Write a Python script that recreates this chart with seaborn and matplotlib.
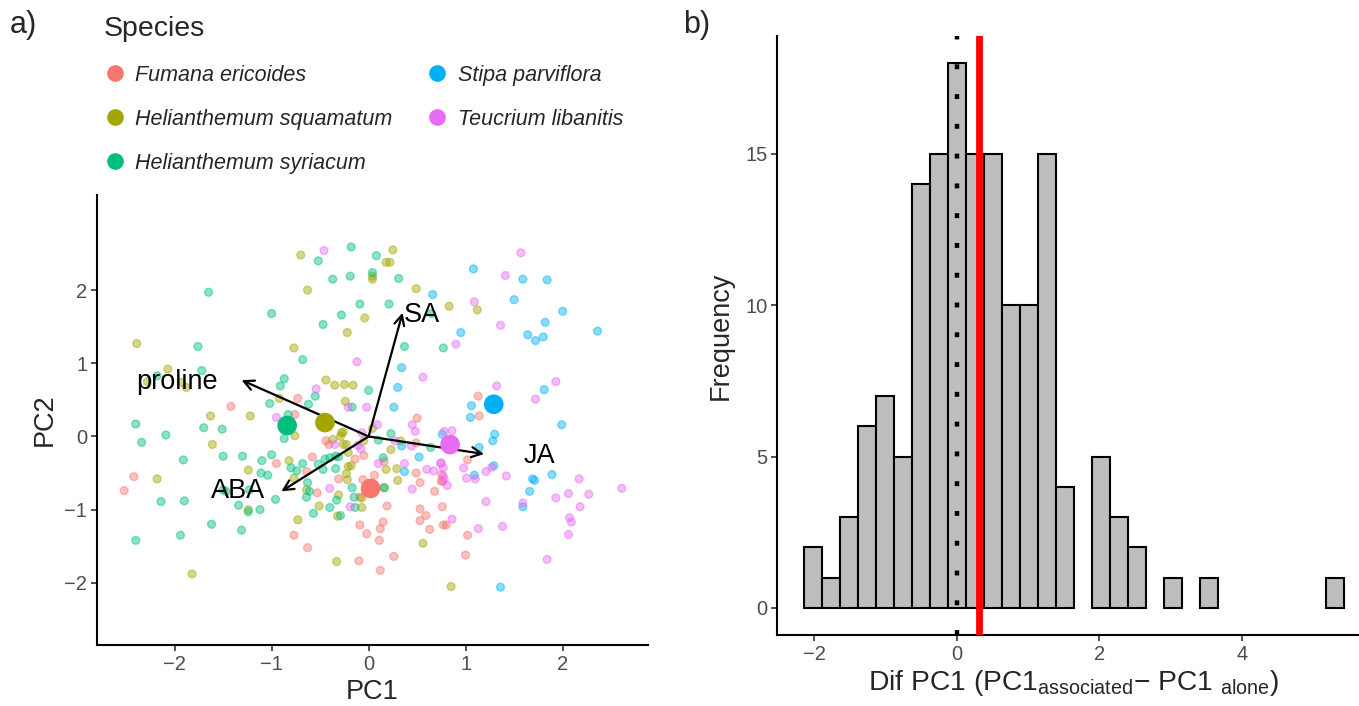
import numpy as np
import pandas as pd
import matplotlib
matplotlib.use("Agg")
import matplotlib.pyplot as plt
from matplotlib.lines import Line2D
import seaborn as sns

# ---------------- data ----------------
species = ["Fumana ericoides", "Helianthemum squamatum", "Helianthemum syriacum",
           "Stipa parviflora", "Teucrium libanitis"]
colors = ["#F8766D", "#A3A500", "#00BF7D", "#00B0F6", "#E76BF3"]

fe_x = [-1.42, -0.95, -2.42, -2.52, -0.73, -0.76, 0.50, 1.13, 1.14, -0.44, -0.41, 0.49, -0.05, -0.14,
        -0.58, 0.16, 0.49, -0.64, -0.31, -0.06, 0.06, 0.53, 0.68, 0.75, -0.53, -0.09, 0.19, 0.53, 0.76,
        0.59, 0.53, 0.15, -0.09, 0.12, 0.63, 0.77, -0.02, -0.77, 0.11, -0.63, 0.26, -0.10, 0.12, 1.02,
        0.75, 0.76, 0.80, 1.02, 1.00]
fe_y = [0.41, -0.37, -0.55, -0.74, 0.52, 0.30, 0.25, 0.55, 0.28, -0.06, -0.11, -0.09, -0.26, -0.31,
        -0.28, -0.34, -0.50, -0.48, -0.58, -0.59, -0.53, -0.63, -0.75, -0.61, -0.77, -0.83, -0.95, -0.99, -0.96,
        -1.08, -1.15, -1.17, -1.21, -1.26, -1.27, -1.21, -1.33, -1.35, -1.42, -1.52, -1.64, -1.70, -1.83, -0.32,
        -0.52, -0.61, -1.21, -1.35, -1.62]

hsq_x = [-2.39, -2.07, -1.93, -1.88, -2.28, -1.63, -1.22, -0.70, 0.25, 0.18, 0.22, 0.04, 0.04, -0.63,
         0.49, -0.04, -0.22, -0.77, -0.44, -0.35, -0.25, -0.16, -0.92, -0.24, 0.83, 1.12, -1.61, -1.24,
         -2.18, -1.24, -1.82, -0.76, 0.04, -0.28, -0.26, -0.29, -0.37, -0.26, -0.23, -0.05, 0.33, 0.23,
         -0.21, -0.82, 0.18, 0.29, -0.21, -0.18, -0.23, -0.22, -0.77, 0.30, 0.16, -0.64, -0.31, -0.07,
         -0.51, -0.07, -0.32, -0.73, 0.56, -0.33, 0.85]
hsq_y = [1.27, 0.92, 0.74, 0.67, 0.75, 0.28, 0.28, 2.48, 2.55, 2.38, 2.38, 2.19, 2.15, 2.00,
         2.02, 1.62, 1.42, 1.21, 0.77, 0.70, 0.71, 0.70, 0.52, 0.48, 1.78, 1.73, -0.11, -0.46,
         -0.58, -1.00, -1.88, 0.01, 0.11, 0.05, 0.06, 0.00, -0.04, -0.11, -0.11, -0.06, -0.06, -0.18,
         -0.22, -0.33, -0.45, -0.44, -0.41, -0.40, -0.51, -0.59, -0.57, -0.60, -0.70, -0.73, -0.80, -0.84,
         -0.95, -0.97, -1.09, -1.14, -1.46, -1.71, -2.05]

hsy_x = [-1.65, -1.00, -1.76, -1.72, -2.18, -1.02, -0.18, -0.52, 0.08, 0.04, -0.37, -0.19, 0.31, -0.09,
         0.21, -0.28, -0.47, 0.65, 0.77, 0.37, -0.68, -0.87, -0.91, 0.00, -0.55, -0.62, -0.17, -0.83,
         -2.40, -2.09, -2.34, -1.70, -1.51, -1.91, -1.50, -1.30, -1.10, -1.00, -1.11, -1.04, -2.14, -1.90,
         -1.50, -1.47, -1.23, -1.34, -1.24, -1.12, -0.96, -1.62, -1.31, -1.94, -2.40, -0.87, 0.23, 0.10,
         0.64, -0.45, -0.40, -0.34, -0.31, 0.15, -0.68, -0.80, -0.74, -0.52, -0.47, -0.34, -0.63, 0.16,
         -0.17, -0.61, -0.64, -0.33, -0.15, -0.40, -0.14, -0.57, -0.29]
hsy_y = [1.97, 1.68, 1.23, 0.90, 0.83, 0.45, 2.59, 2.40, 2.47, 2.24, 2.15, 2.19, 2.16, 1.81,
         1.81, 1.66, 1.53, 1.68, 1.21, 1.23, 1.05, 0.79, 0.69, 0.63, 0.55, 0.44, 0.40, 0.30,
         0.17, 0.02, -0.08, 0.12, 0.10, -0.32, -0.27, -0.27, -0.33, -0.25, -0.50, -0.53, -0.89, -0.88,
         -0.73, -0.75, -0.73, -0.94, -1.03, -1.00, -0.86, -1.20, -1.28, -1.35, -1.42, -0.03, 0.04, -0.05,
         -0.15, -0.31, -0.29, -0.27, -0.28, -0.29, -0.37, -0.43, -0.47, -0.38, -0.45, -0.44, -0.63, -0.70,
         -0.70, -0.75, -0.83, -0.87, -0.83, -0.97, -0.97, -1.05, -1.08]

sp_x = [0.66, 0.34, 0.30, 0.26, 1.08, 1.59, 1.84, 1.50, 2.00, 1.82, 0.95, 1.64, 1.72, 1.80, 2.36,
        1.81, 1.06, 1.05, 0.34, 0.52, 0.37, 1.99, 0.76, 1.30, 1.28, 1.14, 1.29, 1.09, 1.89, 1.69,
        1.71, 1.66, 1.59, 1.36]
sp_y = [1.94, 0.94, 0.67, 0.40, 2.29, 2.15, 2.14, 1.87, 1.71, 1.56, 1.42, 1.39, 1.31, 1.36, 1.44,
        0.64, 0.42, 0.26, -0.13, -0.28, -0.48, 0.16, 0.03, 0.03, -0.06, -0.15, -0.40, -0.53, -0.52, -0.58,
        -0.60, -0.75, -0.96, -2.06]

tl_x = [-0.95, -0.46, -0.12, 0.56, -0.54, -0.21, -0.02, 1.57, 1.41, 1.09, 1.36, 0.90, 1.93, 1.32,
        1.72, 0.45, 0.48, 0.09, -0.35, -0.07, 0.27, 0.44, -0.11, -0.08, 0.10, 0.37, 0.60, 0.67, 0.74,
        0.45, -0.40, -0.19, 0.78, 0.86, 0.98, 1.21, 1.27, 1.42, 1.01, 1.10, 0.75, 0.77, 0.77, 0.78,
        0.81, 2.17, 2.06, 2.27, 1.93, 1.21, 1.59, 2.18, 2.07, 2.09, 0.86, 1.13, 1.38, 2.06, 1.84, 2.61]
tl_y = [0.26, 2.54, 1.02, 0.81, 0.65, 0.40, 0.40, 2.51, 2.20, 1.84, 1.52, 1.26, 0.75, 0.69,
        0.51, 0.16, 0.07, 0.16, -0.11, 0.05, -0.06, -0.13, -0.12, -0.17, -0.37, -0.37, -0.45, -0.47, -0.37,
        -0.72, -0.71, -0.96, 0.07, 0.08, -0.43, -0.48, -0.42, -0.54, -0.57, -0.58, -0.36, -0.43, -0.54, -0.59,
        -0.67, -0.58, -0.78, -0.79, -0.84, -0.89, -0.91, -0.96, -1.11, -1.17, -1.13, -1.26, -1.23, -1.34, -1.68, -0.71]

# species centroids
cent_x = [0.02, -0.45, -0.84, 1.29, 0.84]
cent_y = [-0.71, 0.19, 0.15, 0.44, -0.11]

# loading arrows
var_names = ["proline", "SA", "JA", "ABA"]
var_x = [-1.31, 0.35, 1.19, -0.90]
var_y = [0.77, 1.69, -0.24, -0.75]
lab_x = [-1.98, 0.55, 1.76, -1.35]
lab_y = [0.74, 1.66, -0.27, -0.75]

# histogram (30 bins)
hist_counts = [2, 1, 3, 6, 7, 5, 14, 15, 18, 15, 15, 10, 10, 15, 4, 0, 5, 3, 2, 0,
               1, 0, 1, 0, 0, 0, 0, 0, 0, 1]
hist_min, hist_max = -2.141, 5.433
mean_diff = 0.314

# ---------------- style ----------------
sns.set_theme(style="ticks")
plt.rcParams['font.family'] = ['Liberation Sans', 'DejaVu Sans']
plt.rcParams['mathtext.fontset'] = 'custom'
plt.rcParams['mathtext.rm'] = 'Liberation Sans'
plt.rcParams['mathtext.it'] = 'Liberation Sans:italic'
plt.rcParams['mathtext.default'] = 'regular'

W, H = 1359, 706
fig = plt.figure(figsize=(W / 100, H / 100), dpi=100)

def px_axes(l, r, t, b):
    return fig.add_axes([l / W, 1 - b / H, (r - l) / W, (b - t) / H])

axA = px_axes(97, 648, 195, 645)
axB = px_axes(777, 1371, 36, 635)

# ---------------- panel a ----------------
frames = []
for name, xs, ys in zip(species, [fe_x, hsq_x, hsy_x, sp_x, tl_x], [fe_y, hsq_y, hsy_y, sp_y, tl_y]):
    frames.append(pd.DataFrame({"PC1": xs, "PC2": ys, "Species": name}))
df = pd.concat(frames, ignore_index=True)
pal = dict(zip(species, colors))

sns.scatterplot(data=df, x="PC1", y="PC2", hue="Species", hue_order=species, palette=pal,
                s=32, alpha=0.45, edgecolor="face", linewidth=1.0, legend=False, ax=axA, zorder=2)

cdf = pd.DataFrame({"PC1": cent_x, "PC2": cent_y, "Species": species})
sns.scatterplot(data=cdf, x="PC1", y="PC2", hue="Species", hue_order=species, palette=pal,
                s=200, alpha=1, edgecolor="none", legend=False, ax=axA, zorder=4)

for nm, vx, vy, lx, ly in zip(var_names, var_x, var_y, lab_x, lab_y):
    axA.annotate("", xy=(vx, vy), xytext=(0, 0),
                 arrowprops=dict(arrowstyle="->,head_length=0.6,head_width=0.3", color="black",
                                 lw=1.6, shrinkA=0, shrinkB=0), zorder=3)
    axA.text(lx, ly, nm, fontsize=19.5, ha="center", va="center", color="black", zorder=5)

axA.set_xlim(-2.80, 2.88)
axA.set_ylim(-2.85, 3.3)
axA.set_xticks([-2, -1, 0, 1, 2])
axA.set_yticks([-2, -1, 0, 1, 2])
axA.set_xticklabels(["\u22122", "\u22121", "0", "1", "2"])
axA.set_yticklabels(["\u22122", "\u22121", "0", "1", "2"])
axA.set_xlabel("PC1", fontsize=19.5, labelpad=4)
axA.set_ylabel("PC2", fontsize=19.5, labelpad=5)

# legend
handles = [Line2D([0], [0], marker="o", linestyle="", markersize=12, markerfacecolor=c,
                  markeredgecolor="none") for c in colors]
leg = fig.legend(handles, species, ncol=2, loc="upper left", bbox_to_anchor=(93 / W, 1 - 5 / H),
                 frameon=False, title="Species", alignment="left", borderpad=0,
                 prop=dict(family="Liberation Sans", style="italic", size=15.5),
                 title_fontproperties=dict(family="Liberation Sans", size=20.5),
                 handlelength=1.0, handletextpad=0.45, labelspacing=1.07, columnspacing=1.6)

# ---------------- panel b ----------------
edges = [float(e) for e in np.linspace(hist_min, hist_max, len(hist_counts) + 1)]
centers = [(a + b) / 2 for a, b in zip(edges[:-1], edges[1:])]
hdf = pd.DataFrame({"dif": centers, "n": hist_counts})
sns.histplot(data=hdf, x="dif", weights="n", bins=edges, color="#BEBEBE", alpha=1,
             edgecolor="black", linewidth=1.5, ax=axB, zorder=2)
for p in axB.patches:
    if p.get_height() == 0:
        p.set_visible(False)
axB.axvline(0, color="black", lw=3.2, linestyle=(0, (1.1, 5.6)), zorder=3)
axB.axvline(mean_diff, color="#FF0000", lw=4.9, zorder=4)

axB.set_xlim(hist_min - 0.05 * (hist_max - hist_min), hist_max + 0.05 * (hist_max - hist_min))
axB.set_ylim(-0.9, 18.9)
axB.set_xticks([-2, 0, 2, 4])
axB.set_xticklabels(["\u22122", "0", "2", "4"])
axB.set_yticks([0, 5, 10, 15])
axB.set_xlabel("Dif PC1 (PC1$_{associated}$\u2212 PC1 $_{alone}$)", fontsize=20.3, labelpad=3)
axB.set_ylabel("Frequency", fontsize=19.5, labelpad=8)

for ax in (axA, axB):
    sns.despine(ax=ax)
    for s in ("left", "bottom"):
        ax.spines[s].set_linewidth(1.5)
        ax.spines[s].set_color("black")
    ax.tick_params(axis="both", which="major", length=4, width=1.2, color="#333333",
                   labelsize=14.5, labelcolor="#4D4D4D", pad=3)
    ax.set_facecolor("white")

fig.text(10 / W, 1 - 25 / H, "a)", fontsize=22, va="center", ha="left")
fig.text(683 / W, 1 - 25 / H, "b)", fontsize=22, va="center", ha="left")

fig.savefig("out.png", dpi=100, facecolor="white")
